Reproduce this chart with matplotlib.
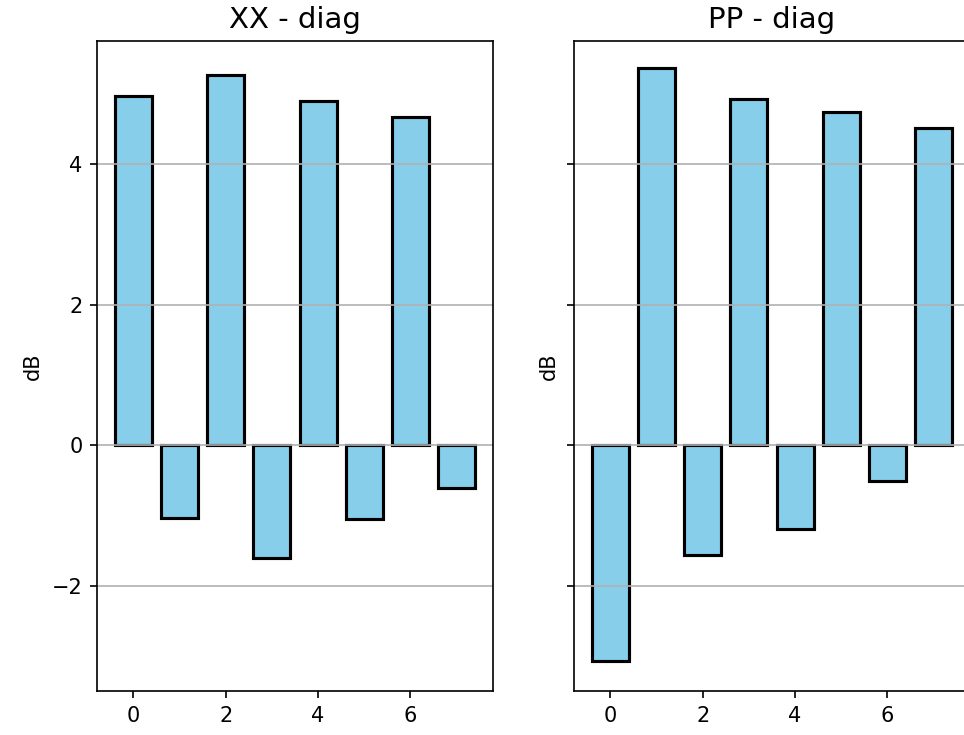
import matplotlib
matplotlib.use("Agg")
import matplotlib.pyplot as plt
import numpy as np

# bar heights in dB
xx_diag = [4.97, -1.03, 5.27, -1.60, 4.90, -1.05, 4.67, -0.61]
pp_diag = [-3.06, 5.37, -1.55, 4.93, -1.18, 4.74, -0.50, 4.52]
titles = ["XX - diag", "PP - diag"]

dpi = 150
fig = plt.figure(figsize=(964 / dpi, 735 / dpi), dpi=dpi)

# second panel runs off the right edge, like in the reference
ax1 = fig.add_axes([97 / 964, 44 / 735, 396 / 964, 650 / 735])
ax2 = fig.add_axes([574 / 964, 44 / 735, 396 / 964, 650 / 735], sharey=ax1)

for ax, vals, title in zip([ax1, ax2], [xx_diag, pp_diag], titles):
    x = np.arange(len(vals))
    ax.bar(x, vals, width=0.8, color="skyblue", edgecolor="black", linewidth=1.5)
    ax.set_title(title, fontsize=14)
    ax.set_ylabel("dB")
    ax.grid(axis="y")
    ax.set_xticks([0, 2, 4, 6])

ax1.set_ylim(-3.49, 5.75)
ax1.set_yticks([-2, 0, 2, 4])
ax2.tick_params(labelleft=False)

fig.savefig("out.png", dpi=dpi)
